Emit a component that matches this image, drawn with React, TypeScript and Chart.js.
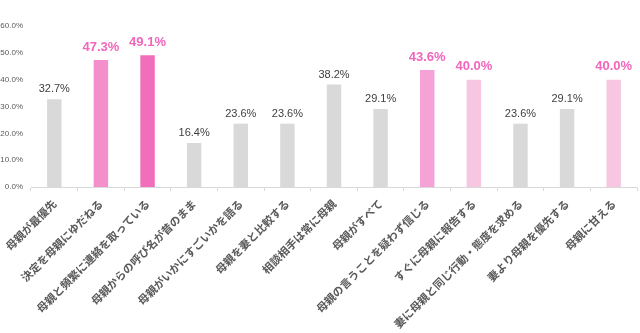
import React, { useEffect, useRef } from "react";
import { Chart, registerables } from "chart.js";

Chart.register(...registerables);

const categories = [
  "母親が最優先",
  "決定を母親にゆだねる",
  "母親と頻繁に連絡を取っている",
  "母親からの呼び名が昔のまま",
  "母親がいかにすごいかを語る",
  "母親を妻と比較する",
  "相談相手は常に母親",
  "母親がすべて",
  "母親の言うことを疑わず信じる",
  "すぐに母親に報告する",
  "妻に母親と同じ行動・態度を求める",
  "妻より母親を優先する",
  "母親に甘える",
];
const values = [32.7, 47.3, 49.1, 16.4, 23.6, 23.6, 38.2, 29.1, 43.6, 40.0, 23.6, 29.1, 40.0];
const barColors = [
  "#D9D9D9", "#F48FCB", "#F06EBA", "#D9D9D9", "#D9D9D9", "#D9D9D9", "#D9D9D9",
  "#D9D9D9", "#F5A3D7", "#F7C6E1", "#D9D9D9", "#D9D9D9", "#F7C6E1",
];
const highlighted = [false, true, true, false, false, false, false, false, true, true, false, false, true];
const yTicks = [0, 10, 20, 30, 40, 50, 60];

const valueLabels = {
  id: "valueLabels",
  afterDatasetsDraw(chart: any) {
    const ctx = chart.ctx;
    const meta = chart.getDatasetMeta(0);
    ctx.save();
    ctx.textAlign = "center";
    ctx.textBaseline = "middle";
    meta.data.forEach((bar: any, i: number) => {
      const txt = values[i].toFixed(1) + "%";
      if (highlighted[i]) {
        ctx.font = "bold 13px 'Liberation Sans', 'DejaVu Sans', sans-serif";
        ctx.fillStyle = "#F266BB";
        ctx.fillText(txt, bar.x, bar.y - 13);
      } else {
        ctx.font = "11px 'Liberation Sans', 'DejaVu Sans', sans-serif";
        ctx.fillStyle = "#404040";
        ctx.fillText(txt, bar.x, bar.y - 10);
      }
    });
    // y-axis tick labels
    const y = chart.scales.y;
    ctx.font = "8px 'Liberation Sans', sans-serif";
    ctx.fillStyle = "#595959";
    ctx.textAlign = "right";
    yTicks.forEach((v) => {
      ctx.fillText(v.toFixed(1) + "%", chart.chartArea.left - 8, y.getPixelForValue(v));
    });
    ctx.restore();
  },
};

export default function App() {
  const ref = useRef<HTMLCanvasElement>(null);
  useEffect(() => {
    document.body.style.margin = "0";
    const chart = new Chart(ref.current!, {
      type: "bar",
      data: {
        labels: categories,
        datasets: [
          {
            data: values,
            backgroundColor: barColors,
            barPercentage: 0.62,
            categoryPercentage: 0.5,
          },
        ],
      },
      options: {
        animation: false,
        responsive: false,
        maintainAspectRatio: false,
        layout: { padding: { top: 26, right: 3, left: 31, bottom: 0 } },
        plugins: { legend: { display: false }, tooltip: { enabled: false } },
        scales: {
          x: {
            afterFit: (axis: any) => {
              axis.height = 146;
              axis.paddingLeft = 0;
              axis.paddingRight = 0;
            },
            grid: {
              offset: true,
              drawOnChartArea: false,
              drawTicks: true,
              tickLength: 4,
              color: "#D9D9D9",
            },
            border: { display: true, color: "#D9D9D9" },
            ticks: {
              minRotation: 45,
              maxRotation: 45,
              autoSkip: false,
              color: "#595959",
              padding: 6,
              font: { size: 11, weight: "bold", family: "'Noto Sans CJK JP', sans-serif" },
            },
          },
          y: {
            min: 0,
            max: 60,
            afterFit: (axis: any) => {
              axis.width = 0;
            },
            afterBuildTicks: (axis: any) => {
              axis.ticks = yTicks.map((v) => ({ value: v }));
            },
            grid: { display: false },
            border: { display: false },
            ticks: { display: false },
          },
        },
      },
      plugins: [valueLabels],
    });
    return () => chart.destroy();
  }, []);
  return (
    <div style={{ position: "absolute", left: 0, top: 0, width: 640, height: 333 }}>
      <canvas ref={ref} width={640} height={333} />
    </div>
  );
}
